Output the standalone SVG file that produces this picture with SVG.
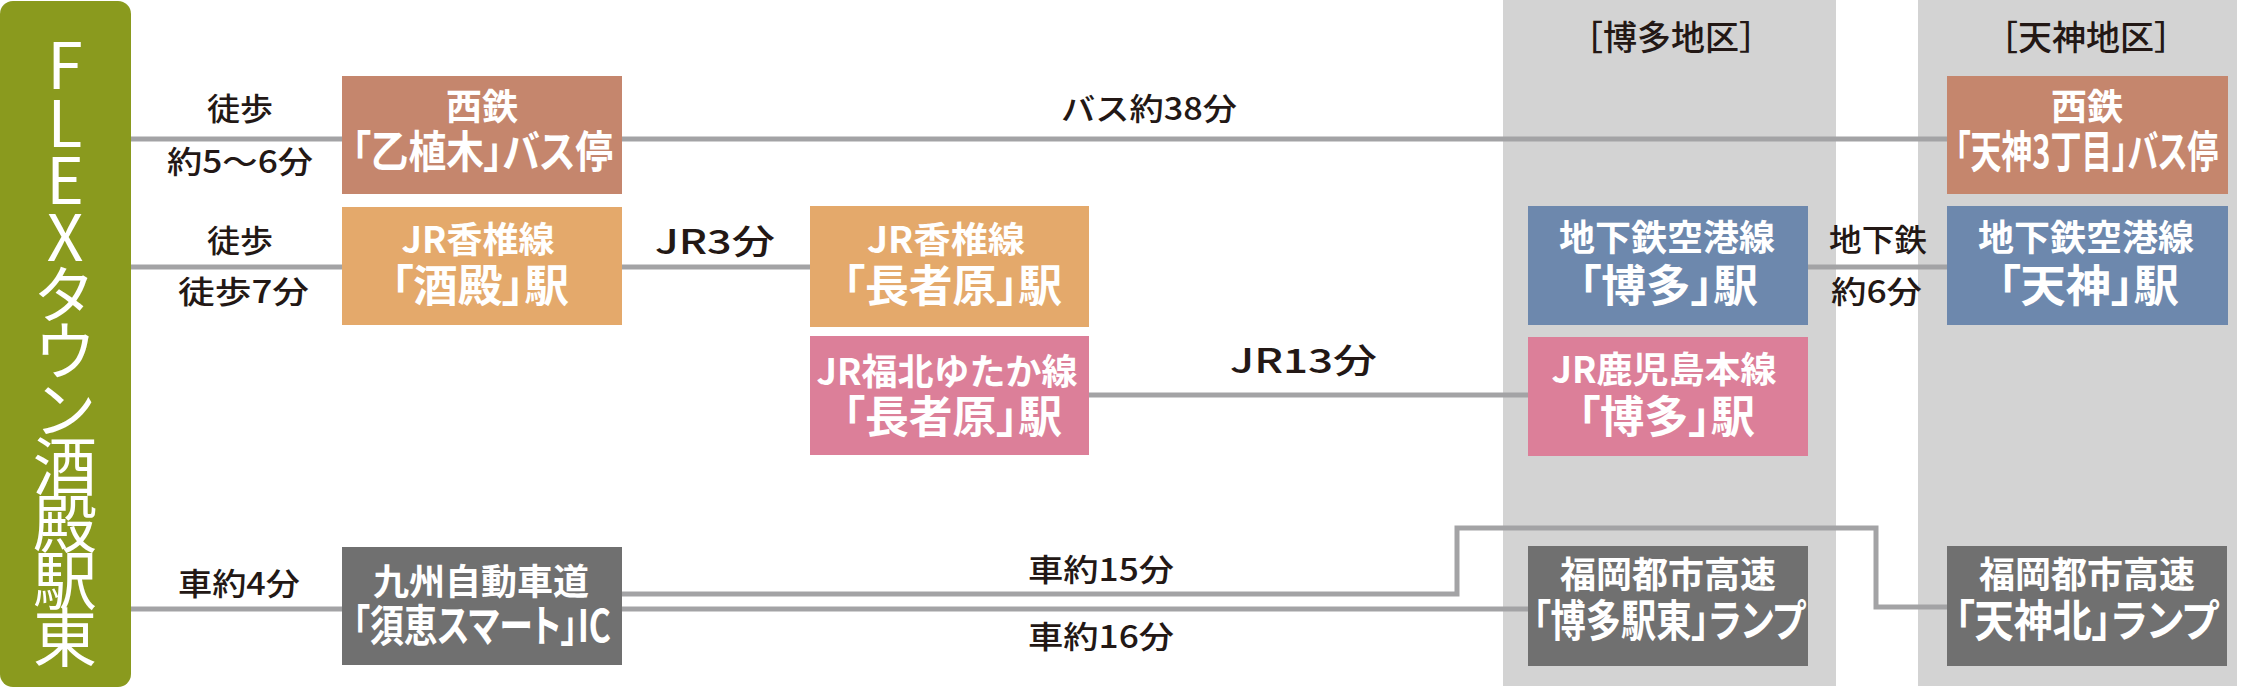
<svg xmlns="http://www.w3.org/2000/svg" width="2252" height="688" viewBox="0 0 2252 688">
<style>
.area{fill:#d3d3d3}
.ln{fill:none;stroke:#a3a3a5;stroke-width:5}
.bus{fill:#c5866d}
.jr{fill:#e4a96b}
.pk{fill:#dc7f99}
.sub{fill:#6d88ad}
.hw{fill:#707070}
.bt1{font-family:"Noto Sans CJK JP","Noto Sans",sans-serif;font-weight:bold;font-size:36px;fill:#fff}
.bt2{font-family:"Noto Sans CJK JP","Noto Sans",sans-serif;font-weight:bold;font-size:44px;fill:#fff;font-feature-settings:"palt"}
.lb{font-family:"Noto Sans CJK JP","Noto Sans",sans-serif;font-weight:500;font-size:31px;fill:#231815}
.lb2{font-family:"Noto Sans CJK JP","Noto Sans",sans-serif;font-weight:500;font-size:34px;fill:#231815}
.mid{text-anchor:middle}
.vt{font-family:"Noto Sans CJK JP","Noto Sans",sans-serif;font-weight:normal;font-size:64px;fill:#fff;writing-mode:vertical-rl;text-orientation:upright;letter-spacing:-6.8px}
</style>
<rect width="2252" height="688" fill="#fff"/>
<g id="area-hakata">
<rect class="area" x="1503" y="0" width="333" height="686"/>
<text class="lb2 mid" x="1671" y="50">［博多地区］</text>
</g>
<g id="area-tenjin">
<rect class="area" x="1918" y="0" width="319" height="686"/>
<text class="lb2 mid" x="2086" y="50">［天神地区］</text>
</g>
<g id="connectors">
<path class="ln" d="M109 139H342M622 139H1947"/>
<path class="ln" d="M107 267H342M622 267H810"/>
<path class="ln" d="M1089 395H1528"/>
<path class="ln" d="M1808 267H1947"/>
<path class="ln" d="M131 609H342"/>
<path class="ln" d="M622 594H1457V528H1876V607H1947"/>
<path class="ln" d="M622 609H1528"/>
<text class="lb" x="207" y="120" textLength="66" lengthAdjust="spacingAndGlyphs">徒歩</text>
<text class="lb" x="167" y="173" textLength="146" lengthAdjust="spacingAndGlyphs">約5〜6分</text>
<text class="lb" x="207" y="252" textLength="66" lengthAdjust="spacingAndGlyphs">徒歩</text>
<text class="lb" x="178" y="303" textLength="131" lengthAdjust="spacingAndGlyphs">徒歩7分</text>
<text class="lb" x="1061" y="120" textLength="176" lengthAdjust="spacingAndGlyphs">バス約38分</text>
<text class="lb2" x="655" y="254" textLength="120" lengthAdjust="spacingAndGlyphs">JR3分</text>
<text class="lb2" x="1230" y="373" textLength="147" lengthAdjust="spacingAndGlyphs">JR13分</text>
<text class="lb" x="1829" y="251" textLength="98" lengthAdjust="spacingAndGlyphs">地下鉄</text>
<text class="lb" x="1831" y="303" textLength="91" lengthAdjust="spacingAndGlyphs">約6分</text>
<text class="lb" x="178" y="595" textLength="122" lengthAdjust="spacingAndGlyphs">車約4分</text>
<text class="lb" x="1028" y="581" textLength="146" lengthAdjust="spacingAndGlyphs">車約15分</text>
<text class="lb" x="1028" y="648" textLength="146" lengthAdjust="spacingAndGlyphs">車約16分</text>
</g>
<g id="origin">
<rect x="0" y="1" width="131" height="686" rx="13" fill="#8a9a1e"/>
<text class="vt" x="65" y="33">FLEXタウン酒殿駅東</text>
</g>
<g id="node-otouegi">
<rect class="bus" x="342" y="76" width="280" height="118"/>
<text class="bt1 mid" x="482" y="120">西鉄</text>
<text class="bt2" x="352" y="168" textLength="261" lengthAdjust="spacingAndGlyphs">「乙植木」バス停</text>
</g>
<g id="node-sakato">
<rect class="jr" x="342" y="207" width="280" height="118"/>
<text class="bt1 mid" x="478" y="253">JR香椎線</text>
<text class="bt2" x="391" y="302" textLength="178" lengthAdjust="spacingAndGlyphs">「酒殿」駅</text>
</g>
<g id="node-chojabaru-kashii">
<rect class="jr" x="810" y="206" width="279" height="121"/>
<text class="bt1" x="867" y="253" textLength="158" lengthAdjust="spacingAndGlyphs">JR香椎線</text>
<text class="bt2" x="843" y="302" textLength="219" lengthAdjust="spacingAndGlyphs">「長者原」駅</text>
</g>
<g id="node-chojabaru-fukuhoku">
<rect class="pk" x="810" y="336" width="279" height="119"/>
<text class="bt1 mid" x="947" y="385">JR福北ゆたか線</text>
<text class="bt2" x="843" y="433" textLength="219" lengthAdjust="spacingAndGlyphs">「長者原」駅</text>
</g>
<g id="node-hakata-subway">
<rect class="sub" x="1528" y="206" width="280" height="119"/>
<text class="bt1 mid" x="1667" y="251">地下鉄空港線</text>
<text class="bt2" x="1579" y="302" textLength="179" lengthAdjust="spacingAndGlyphs">「博多」駅</text>
</g>
<g id="node-hakata-jr">
<rect class="pk" x="1528" y="337" width="280" height="119"/>
<text class="bt1 mid" x="1664" y="383">JR鹿児島本線</text>
<text class="bt2" x="1578" y="433" textLength="177" lengthAdjust="spacingAndGlyphs">「博多」駅</text>
</g>
<g id="node-tenjin3">
<rect class="bus" x="1947" y="76" width="281" height="118"/>
<text class="bt1 mid" x="2087" y="120">西鉄</text>
<text class="bt2" transform="translate(1955 168) scale(0.75 1)" x="0" y="0" textLength="351" lengthAdjust="spacingAndGlyphs">「天神3丁目」バス停</text>
</g>
<g id="node-tenjin-subway">
<rect class="sub" x="1947" y="206" width="281" height="119"/>
<text class="bt1 mid" x="2086" y="251">地下鉄空港線</text>
<text class="bt2" x="1998" y="302" textLength="181" lengthAdjust="spacingAndGlyphs">「天神」駅</text>
</g>
<g id="node-sue-ic">
<rect class="hw" x="342" y="547" width="280" height="118"/>
<text class="bt1 mid" x="481" y="595">九州自動車道</text>
<text class="bt2" x="353" y="642" textLength="258" lengthAdjust="spacingAndGlyphs">「須恵スマート」IC</text>
</g>
<g id="node-hakataekihigashi">
<rect class="hw" x="1528" y="546" width="280" height="120"/>
<text class="bt1 mid" x="1668" y="588">福岡都市高速</text>
<text class="bt2" x="1533" y="637" textLength="272" lengthAdjust="spacingAndGlyphs">「博多駅東」ランプ</text>
</g>
<g id="node-tenjinkita">
<rect class="hw" x="1947" y="546" width="280" height="120"/>
<text class="bt1 mid" x="2087" y="588">福岡都市高速</text>
<text class="bt2" x="1955" y="637" textLength="263" lengthAdjust="spacingAndGlyphs">「天神北」ランプ</text>
</g>
</svg>
